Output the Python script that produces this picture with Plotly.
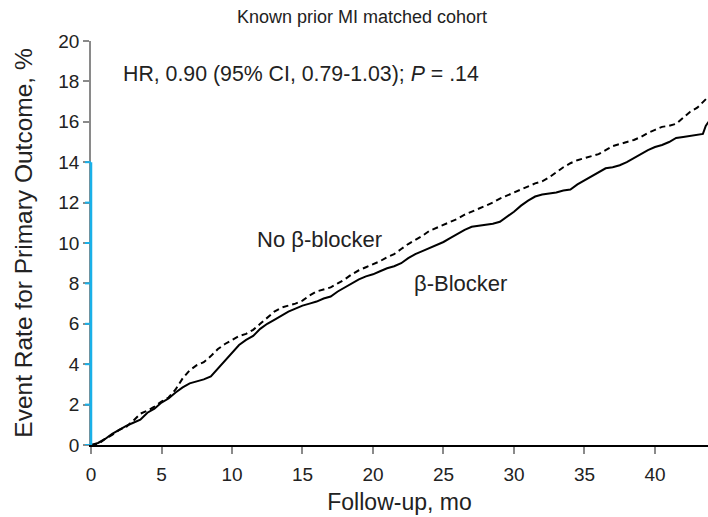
import plotly.graph_objects as go

# ---- data ----
t_bb = [0, 0.5, 1, 1.5, 2, 2.5, 3, 3.5, 4, 4.5, 5, 5.5, 6, 6.5, 7, 7.5, 8, 8.5, 9, 9.5,
        10, 10.5, 11, 11.5, 12, 12.5, 13, 13.5, 14, 14.5, 15, 15.5, 16, 16.5, 17, 17.5,
        18, 18.5, 19, 19.5, 20, 20.5, 21, 21.5, 22, 22.5, 23, 23.5, 24, 24.5, 25, 25.5,
        26, 26.5, 27, 27.5, 28, 28.5, 29, 29.5, 30, 30.5, 31, 31.5, 32, 32.5, 33, 33.5,
        34, 34.5, 35, 35.5, 36, 36.5, 37, 37.5, 38, 38.5, 39, 39.5, 40, 40.5, 41, 41.5,
        42, 42.5, 43, 43.4, 43.6, 43.8]
y_bb = [0, 0.1, 0.3, 0.55, 0.75, 0.95, 1.1, 1.25, 1.6, 1.8, 2.1, 2.3, 2.6, 2.85, 3.05, 3.15, 3.25, 3.4, 3.8, 4.2,
        4.6, 4.95, 5.2, 5.4, 5.75, 6.0, 6.2, 6.4, 6.6, 6.75, 6.9, 7.0, 7.1, 7.25, 7.35, 7.6,
        7.8, 8.0, 8.2, 8.35, 8.45, 8.6, 8.75, 8.85, 9.0, 9.25, 9.45, 9.6, 9.75, 9.9, 10.05, 10.25,
        10.45, 10.65, 10.8, 10.85, 10.9, 10.95, 11.05, 11.3, 11.55, 11.85, 12.1, 12.3, 12.4, 12.45, 12.5, 12.6,
        12.65, 12.9, 13.1, 13.3, 13.5, 13.7, 13.75, 13.85, 14.0, 14.2, 14.4, 14.6, 14.75, 14.85, 15.0, 15.2,
        15.25, 15.3, 15.35, 15.4, 15.8, 16.0]

t_nobb = [0, 0.5, 1, 1.5, 2, 2.5, 3, 3.5, 4, 4.5, 5, 5.5, 6, 6.5, 7, 7.5, 8, 8.5, 9, 9.5,
          10, 10.5, 11, 11.5, 12, 12.5, 13, 13.5, 14, 14.5, 15, 15.5, 16, 16.5, 17, 17.5,
          18, 18.5, 19, 19.5, 20, 20.5, 21, 21.5, 22, 22.5, 23, 23.5, 24, 24.5, 25, 25.5,
          26, 26.5, 27, 27.5, 28, 28.5, 29, 29.5, 30, 30.5, 31, 31.5, 32, 32.5, 33, 33.5,
          34, 34.5, 35, 35.5, 36, 36.5, 37, 37.5, 38, 38.5, 39, 39.5, 40, 40.5, 41, 41.5,
          42, 42.5, 43, 43.4, 43.8]
y_nobb = [0, 0.05, 0.3, 0.5, 0.75, 0.9, 1.2, 1.55, 1.7, 1.9, 2.15, 2.35, 2.75, 3.3, 3.7, 3.95, 4.1, 4.4, 4.75, 5.0,
          5.2, 5.4, 5.5, 5.7, 6.0, 6.3, 6.6, 6.8, 6.9, 7.0, 7.15, 7.4, 7.6, 7.7, 7.8, 8.0,
          8.2, 8.45, 8.65, 8.8, 8.95, 9.1, 9.3, 9.45, 9.7, 9.95, 10.15, 10.35, 10.6, 10.75, 10.9, 11.05,
          11.2, 11.4, 11.55, 11.7, 11.85, 12.0, 12.2, 12.35, 12.5, 12.65, 12.8, 12.95, 13.05, 13.25, 13.5, 13.75,
          13.95, 14.1, 14.2, 14.3, 14.4, 14.6, 14.8, 14.9, 15.0, 15.1, 15.25, 15.45, 15.6, 15.75, 15.8, 15.9,
          16.2, 16.5, 16.7, 17.0, 17.25]

x_ticks = [0, 5, 10, 15, 20, 25, 30, 35, 40]
y_ticks = [0, 2, 4, 6, 8, 10, 12, 14, 16, 18, 20]
blue_ticks = [0, 2, 4, 6, 8, 10, 12, 14]

FONT = "Liberation Sans, Arial, Helvetica, sans-serif"
TXT = "#222222"
BLUE = "#1ab0e8"
GRAY = "#8a8a8a"

fig = go.Figure()
fig.add_trace(go.Scatter(x=t_nobb, y=y_nobb, mode="lines",
                         line=dict(color="black", width=2, dash="6px,4px"),
                         name="No β-blocker", showlegend=False))
fig.add_trace(go.Scatter(x=t_bb, y=y_bb, mode="lines",
                         line=dict(color="black", width=2),
                         name="β-Blocker", showlegend=False))

shapes = [dict(type="line", xref="paper", yref="y", x0=0, x1=0, y0=0, y1=14,
               line=dict(color=BLUE, width=2.5), layer="above")]
for v in blue_ticks:
    shapes.append(dict(type="line", xref="paper", yref="y", xsizemode="pixel", xanchor=0,
                       x0=-6, x1=0, y0=v, y1=v, line=dict(color=BLUE, width=2), layer="above"))

annotations = [
    dict(text="Known prior MI matched cohort", xref="paper", yref="paper",
         x=0.439, y=1.0, yshift=24, showarrow=False, xanchor="center", yanchor="middle",
         font=dict(family=FONT, size=18, color=TXT)),
    dict(text="HR, 0.90 (95% CI, 0.79-1.03); <i>P</i> = .14", xref="x", yref="y",
         x=2.1, y=18.35, showarrow=False, xanchor="left", yanchor="middle",
         font=dict(family=FONT, size=21.3, color=TXT)),
    dict(text="No β-blocker", xref="x", yref="y", x=11.6, y=10.15, showarrow=False,
         xanchor="left", yanchor="middle", font=dict(family=FONT, size=22, color=TXT)),
    dict(text="β-Blocker", xref="x", yref="y", x=22.75, y=8.0, showarrow=False,
         xanchor="left", yanchor="middle", font=dict(family=FONT, size=22, color=TXT)),
]

fig.update_layout(
    width=708, height=517,
    margin=dict(l=91, r=0, t=41, b=72, autoexpand=False),
    paper_bgcolor="white", plot_bgcolor="white",
    font=dict(family=FONT, color=TXT),
    shapes=shapes, annotations=annotations,
    xaxis=dict(range=[0, 43.76], tickvals=x_ticks, showgrid=False, zeroline=False,
               showline=True, linecolor="black", linewidth=1.5, automargin=False,
               ticks="outside", ticklen=7, tickwidth=1.5, tickcolor=GRAY,
               ticklabelstandoff=4,
               tickfont=dict(family=FONT, size=19, color=TXT),
               title=dict(text="Follow-up, mo", font=dict(family=FONT, size=23, color=TXT), standoff=10)),
    yaxis=dict(range=[0, 20], tickvals=y_ticks, showgrid=False, zeroline=False,
               showline=True, linecolor=GRAY, linewidth=1.5, automargin=False,
               ticks="outside", ticklen=6, tickwidth=1.5, tickcolor=GRAY,
               tickfont=dict(family=FONT, size=19, color=TXT),
               title=dict(text="Event Rate for Primary Outcome, %", font=dict(family=FONT, size=24.5, color=TXT), standoff=19)),
)

# remove the default page margin so the 708x517 figure fills the window exactly
fig.write_html("out.html", config={"displayModeBar": False},
               post_script="document.body.style.margin='0';document.body.style.overflow='hidden';")
